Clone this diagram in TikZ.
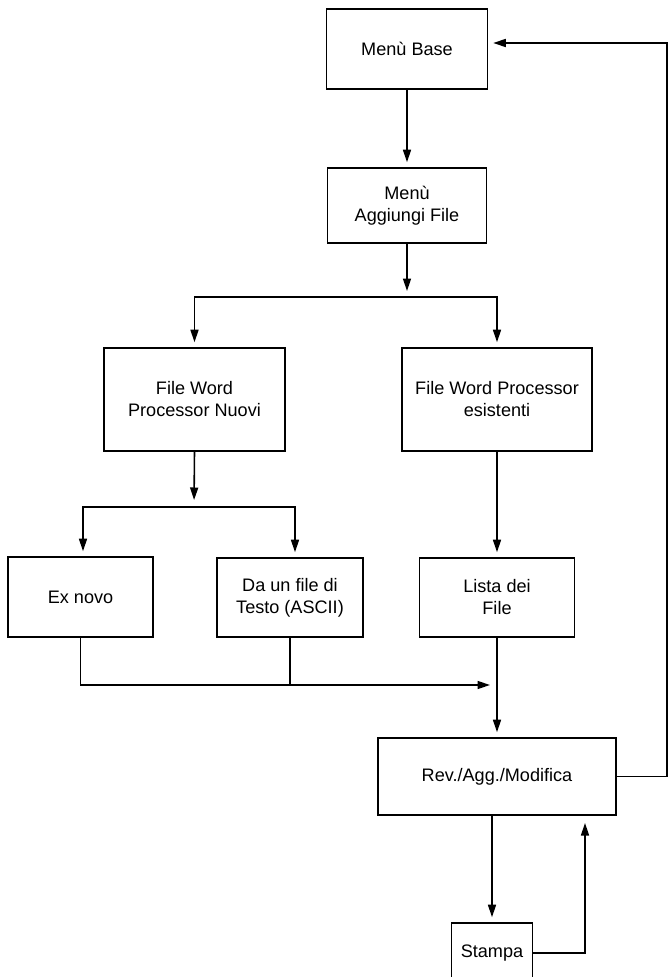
\documentclass[tikz,border=0pt]{standalone}
\usepackage{fontspec}
\setmainfont{Liberation Sans}
\usepackage{tikz}
\usetikzlibrary{arrows.meta,positioning,calc}

\begin{document}
\begin{tikzpicture}[
  x=0.2mm, y=-0.2mm,
  box/.style={draw, line width=0.9pt, align=center, inner sep=2pt, font=\fontsize{10.3}{12.5}\selectfont},
  arrow/.style={-{Triangle[length=2.5mm, width=1.6mm]}, line width=0.9pt, shorten >=1mm},
  line/.style={line width=0.9pt}
]
\useasboundingbox (0,0) rectangle (669,977);

\node[box, minimum width=32.2mm, minimum height=16mm] (base) at (407, 49) {Menù Base};
\node[box, minimum width=31.8mm, minimum height=15mm] (aggiungi) at (407, 205.5) {Menù\\Aggiungi File};

\node[box, minimum width=36.2mm, minimum height=20.6mm] (nuovi) at (194.5, 399.5) {File Word\\Processor Nuovi};
\node[box, minimum width=38mm, minimum height=20.6mm] (esistenti) at (497, 399.5) {File Word Processor\\esistenti};

\node[box, minimum width=29mm, minimum height=16mm] (exnovo) at (80.5, 597) {Ex novo};
\node[box, minimum width=29.2mm, minimum height=15.8mm] (ascii) at (290, 597.5) {Da un file di\\Testo (ASCII)};
\node[box, minimum width=31mm, minimum height=15.8mm] (lista) at (497, 597.5) {Lista dei\\File};

\node[box, minimum width=47.6mm, minimum height=15.4mm] (rev) at (497, 776.5) {Rev./Agg./Modifica};
\node[box, minimum width=16.2mm, minimum height=12mm] (stampa) at (492, 953) {Stampa};

\coordinate (split1) at (407, 297);
\coordinate (split2) at (194, 507);
\coordinate (merge) at (497, 685);
\coordinate (back) at (667, 43);
\coordinate (ret) at (585, 815);

\draw[arrow] (base.south) -- (aggiungi.north);
\draw[arrow, shorten >=1.2mm] (aggiungi.south) -- (split1);
\draw[arrow] (split1) -| (nuovi.north);
\draw[arrow] (split1) -| (esistenti.north);

\draw[arrow, shorten >=1.4mm] (nuovi.south) -- (split2);
\draw[arrow] (split2) -| ([xshift=0.5mm]exnovo.north);
\draw[arrow] (split2) -| ([xshift=1mm]ascii.north);
\draw[arrow] (esistenti.south) -- (lista.north);

\draw[arrow, shorten >=1.4mm] (exnovo.south) |- (merge);
\draw[line] (ascii.south) -- (ascii.south |- merge);
\draw[arrow] (lista.south) -- (rev.north);

\draw[arrow] (rev.south -| stampa.north) -- (stampa.north);
\draw[arrow, shorten >=1.6mm] (stampa.east) -| (ret);
\draw[arrow] (rev.east) -| (back) -- (base.east |- back);

\end{tikzpicture}
\end{document}
